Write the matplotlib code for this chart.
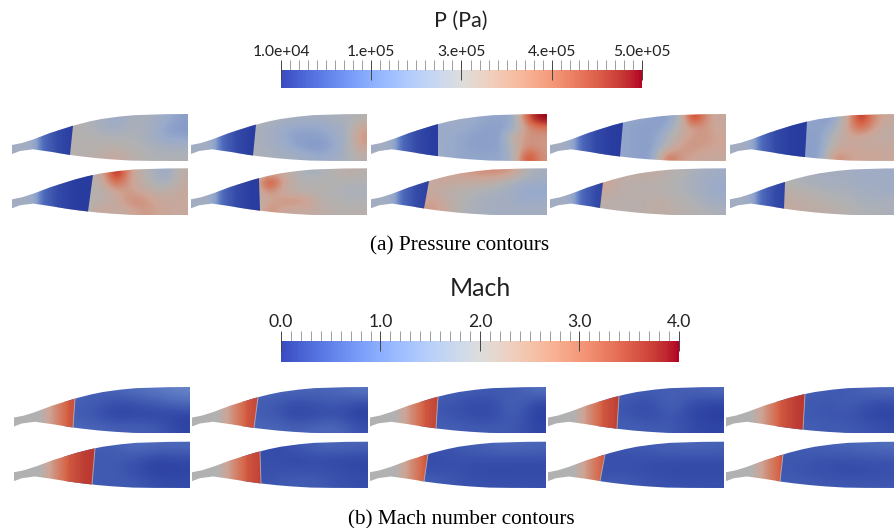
import numpy as np
import matplotlib
matplotlib.use("Agg")
import matplotlib.pyplot as plt
from matplotlib.colors import LinearSegmentedColormap, Normalize
from matplotlib.patches import PathPatch
from matplotlib.path import Path
from matplotlib.ticker import FixedLocator

# ---------- nozzle outline (px from panel's left / top-of-panel reference) ----------
top_x = [0, 10, 21, 38, 61, 75, 88, 105, 121, 150, 176]
top_y = [31, 29, 25.5, 19, 11.7, 8, 5.2, 2.8, 1.2, 0.2, 0]
bot_x = [0, 8, 21, 40, 58, 72, 88, 105, 121, 150, 176]
bot_y = [40, 37, 35.3, 38, 41, 42.8, 44.5, 45.8, 46.7, 47, 47]

# ---------- pressure panels, 1e5 Pa, rows top->bottom ----------
p_range = [0.1, 5.0]
p_nozzle_x = [0, 15, 24, 32, 45, 60, 85]
p_nozzle_v = [2.25, 2.25, 1.9, 1.0, 0.4, 0.15, 0.1]
p_shock_top = [61, 65, 67, 73, 77, 81, 68, 58, 53, 55]
p_shock_bot = [58, 62, 67, 70, 75, 76, 69, 53, 50, 54]

p1 = [[2.6,2.6,2.5,2.3,2.1,2.3,2.4,2.3,2.1,1.9],
      [2.6,2.6,2.5,2.3,2.2,2.4,2.4,2.2,1.9,1.8],
      [2.6,2.6,2.6,2.5,2.5,2.5,2.4,2.2,2.0,2.0],
      [2.6,2.6,2.6,2.7,2.7,2.6,2.5,2.4,2.3,2.3],
      [2.6,2.6,2.7,2.8,3.0,2.8,2.6,2.5,2.5,2.5]]
p2 = [[2.5,2.5,2.5,2.4,2.3,2.3,2.3,2.4,2.4,2.6],
      [2.5,2.4,2.3,2.1,2.0,2.0,2.0,2.2,2.3,3.2],
      [2.5,2.4,2.3,2.1,1.9,1.9,1.9,2.1,2.3,3.4],
      [2.5,2.4,2.3,2.2,2.0,1.8,1.8,2.0,2.3,3.2],
      [2.5,2.5,2.4,2.3,2.3,2.2,2.1,2.2,2.4,2.7]]
p3 = [[2.2,2.2,2.2,2.2,2.1,2.0,2.0,2.0,4.2,5.0],
      [2.2,2.1,2.1,2.1,2.0,1.9,1.9,2.1,3.4,3.7],
      [2.2,2.1,2.1,2.0,1.9,1.9,1.9,3.0,3.4,3.3],
      [2.2,2.2,2.1,2.0,1.9,1.9,1.9,2.6,3.5,3.3],
      [2.2,2.2,2.1,2.0,2.0,2.0,2.0,2.4,4.6,3.4]]
p4 = [[2.1,2.0,2.0,2.0,1.9,1.9,2.3,4.8,3.3,3.0],
      [2.1,2.0,2.0,1.9,1.9,2.0,2.8,3.2,3.3,3.0],
      [2.1,2.0,2.0,1.9,1.9,2.4,2.9,3.3,3.4,3.1],
      [2.1,2.0,2.0,1.9,1.9,2.5,3.3,3.4,3.2,3.1],
      [2.1,2.0,2.0,1.9,1.9,4.0,3.3,3.1,3.0,3.0]]
p5 = [[2.0,2.0,2.0,1.9,1.9,3.0,4.8,3.4,3.0,2.9],
      [2.0,2.0,2.0,1.9,2.2,3.2,4.0,3.2,2.8,2.8],
      [2.0,2.0,1.9,1.9,2.7,3.0,3.0,2.8,2.8,2.9],
      [2.0,2.0,1.9,1.9,2.8,3.1,3.0,3.0,3.0,3.0],
      [2.0,2.0,1.9,1.9,3.6,3.2,3.1,3.1,3.0,3.0]]
p6 = [[2.6,2.6,2.7,3.0,5.0,3.3,2.7,2.3,2.1,2.8],
      [2.6,2.6,2.6,2.8,4.2,3.2,2.8,2.4,2.3,2.9],
      [2.6,2.6,2.6,2.7,3.0,3.3,3.0,2.8,2.8,3.0],
      [2.6,2.6,2.6,2.7,2.9,3.5,3.5,3.1,3.0,3.0],
      [2.6,2.6,2.6,3.2,2.8,3.0,3.3,3.2,3.0,3.0]]
p7 = [[2.6,2.6,2.8,3.0,2.6,2.3,2.4,2.6,2.8,2.7],
      [2.6,2.6,4.8,3.3,2.7,2.6,2.6,2.6,2.5,2.5],
      [2.6,2.6,3.5,2.9,2.7,2.6,2.6,2.5,2.4,2.4],
      [2.6,2.6,3.0,3.4,3.5,3.3,2.7,2.6,2.5,2.5],
      [2.6,2.6,3.6,3.0,2.9,2.9,2.8,2.7,2.6,2.7]]
p8 = [[2.9,3.2,3.2,3.2,3.4,3.5,3.5,3.2,2.5,2.3],
      [2.9,3.0,3.0,2.9,2.9,2.8,2.6,2.3,2.2,2.2],
      [2.9,2.9,2.7,2.6,2.5,2.4,2.3,2.2,2.0,2.0],
      [3.2,3.2,2.8,2.6,2.4,2.3,2.3,2.2,2.1,2.2],
      [3.3,3.3,2.9,2.5,2.4,2.3,2.3,2.3,2.3,2.3]]
p9 = [[3.3,2.9,2.8,2.9,2.9,2.7,2.6,2.4,2.3,2.2],
      [3.3,2.9,2.7,2.7,2.7,2.6,2.5,2.3,2.2,2.1],
      [3.0,2.8,2.7,2.7,2.7,2.6,2.5,2.4,2.2,2.1],
      [2.8,2.7,2.7,2.7,2.8,2.8,2.6,2.5,2.3,2.2],
      [2.7,2.7,2.7,2.7,2.8,2.8,2.7,2.6,2.5,2.4]]
p10 = [[2.5,2.4,2.4,2.3,2.3,2.3,2.2,2.2,2.2,2.2],
       [2.6,2.5,2.4,2.3,2.3,2.3,2.2,2.2,2.2,2.2],
       [2.8,2.7,2.6,2.5,2.4,2.4,2.3,2.3,2.2,2.2],
       [2.9,2.8,2.8,2.7,2.6,2.5,2.4,2.3,2.4,2.4],
       [2.9,2.9,2.8,2.8,2.7,2.6,2.5,2.5,2.4,2.4]]
p_grids = [p1, p2, p3, p4, p5, p6, p7, p8, p9, p10]

# ---------- Mach panels ----------
m_range = [0.0, 4.0]
m_nozzle_x = [0, 25, 32, 42, 55, 70, 85]
m_nozzle_v = [2.0, 2.0, 2.35, 2.8, 3.3, 3.5, 3.6]
m_shock_top = [61, 66, 68, 71, 79, 81, 68, 58, 57, 57]
m_shock_bot = [59, 62, 66, 69, 77, 78, 69, 54, 52, 54]

m1 = [[.70,.60,.70,.85,1.0,1.15],[.60,.50,.25,.35,.50,.75],[.60,.40,.10,.20,.20,.10],[.70,.70,.60,.60,.50,.15]]
m2 = [[.70,.70,.70,.70,.70,.95],[.60,.50,.25,.35,.50,.25],[.60,.50,.15,.25,.35,.05],[.70,.70,.60,.70,.80,.35]]
m3 = [[.60,.60,.50,.50,.50,.85],[.50,.40,.25,.25,.75,.15],[.50,.40,.25,.25,.60,.05],[.60,.60,.50,.50,.50,.15]]
m4 = [[.60,.60,.50,.60,.60,.75],[.50,.40,.25,.75,.25,.15],[.50,.40,.25,.50,.15,.05],[.60,.60,.50,.50,.25,.15]]
m5 = [[.60,.60,.50,.50,.75,.75],[.50,.50,.40,.60,.25,.25],[.50,.50,.40,.40,.15,.15],[.60,.60,.50,.50,.40,.25]]
m6 = [[.50,.50,.60,.85,.75,.75],[.50,.50,.50,.40,.15,.25],[.50,.50,.50,.25,.05,.15],[.50,.50,.50,.50,.25,.25]]
m7 = [[.25,.20,.45,.65,.75,.65],[.30,.35,.20,.30,.20,.20],[.35,.35,.35,.35,.30,.20],[.35,.45,.55,.55,.40,.30]]
m8 = [[.35,.45,.55,.70,.80,.70],[.25,.35,.35,.35,.35,.35],[.35,.35,.25,.20,.20,.20],[.60,.45,.35,.35,.35,.35]]
m9 = [[.45,.45,.55,.65,.70,.65],[.35,.35,.35,.35,.35,.35],[.35,.35,.25,.20,.20,.20],[.50,.50,.40,.35,.35,.35]]
m10 = [[.55,.55,.65,.70,.80,.85],[.45,.45,.35,.40,.40,.45],[.45,.35,.30,.20,.30,.30],[.55,.50,.45,.45,.45,.45]]
m_grids = [m1, m2, m3, m4, m5, m6, m7, m8, m9, m10]

# ---------- colour bars ----------
p_ticks = [1.0e4, 1.325e5, 2.55e5, 3.775e5, 5.0e5]
p_labels = ["1.0e+04", "1.e+05", "3.e+05", "4.e+05", "5.0e+05"]
m_ticks = [0.0, 1.0, 2.0, 3.0, 4.0]
m_labels = ["0.0", "1.0", "2.0", "3.0", "4.0"]

# ---------- layout ----------
W, H = 895, 528
p_x0 = [12, 191, 371, 550, 730]
m_x0 = [14, 192, 370, 548, 726]
p_rows = [114, 168.3]
m_rows = [387, 441.7]
BAR_FONT = ["Lato", "DejaVu Sans"]
CAP_FONT = ["Liberation Serif"]

panel_cmap = LinearSegmentedColormap.from_list("panel", [
    (0.00, (40/255, 60/255, 160/255)),
    (0.25, (90/255, 120/255, 195/255)),
    (0.40, (152/255, 170/255, 203/255)),
    (0.50, (178/255, 178/255, 178/255)),
    (0.62, (205/255, 165/255, 150/255)),
    (0.80, (215/255, 100/255, 70/255)),
    (1.00, (150/255, 0/255, 20/255)),
])

fig = plt.figure(figsize=(W/100, H/100), dpi=100, facecolor="white")
ax = fig.add_axes([0, 0, 1, 1])
ax.set_axis_off()


def draw_panel(x0, y0, yscale, grid, nx, nv, s_top, s_bot, vr, gx0, shock_line):
    norm = Normalize(*vr)
    xs = np.linspace(0, 176, 177)
    top = np.interp(xs, top_x, top_y) * yscale
    bot = np.interp(xs, bot_x, bot_y) * yscale
    outline = np.column_stack([np.r_[xs, xs[::-1]], np.r_[top, bot[::-1]]])
    outline = outline + [x0, y0]
    patch = PathPatch(Path(outline), transform=ax.transData, fc="none", ec="none")
    ax.add_patch(patch)
    im = ax.imshow(grid, cmap=panel_cmap, norm=norm, aspect="auto", interpolation="bicubic",
                   extent=[x0 + gx0, x0 + 176, y0 + 47 * yscale, y0])
    im.set_clip_path(patch)
    # supersonic nozzle part, up to the shock
    mask = xs < min(s_top, s_bot)
    ty = np.interp(s_top, xs, top)
    by = np.interp(s_bot, xs, bot)
    ux = np.r_[xs[mask], s_top, s_bot, xs[mask][::-1]]
    uy = np.r_[top[mask], ty, by, bot[mask][::-1]]
    up = PathPatch(Path(np.column_stack([ux + x0, uy + y0])), transform=ax.transData, fc="none", ec="none")
    ax.add_patch(up)
    gx = np.arange(0, 90)
    gv = np.interp(gx, nx, nv)[None, :]
    im2 = ax.imshow(gv, cmap=panel_cmap, norm=norm, aspect="auto", interpolation="bilinear",
                    extent=[x0, x0 + 90, y0 + 47 * yscale, y0])
    im2.set_clip_path(up)
    if shock_line:
        ax.plot([x0 + s_top, x0 + s_bot], [y0 + ty, y0 + by], color="#c9c6c6", lw=0.7, alpha=0.7)


for i in range(10):
    r, c = divmod(i, 5)
    draw_panel(p_x0[c], p_rows[r], 1.0, p_grids[i], p_nozzle_x, p_nozzle_v,
               p_shock_top[i], p_shock_bot[i], p_range, 45, False)
    draw_panel(m_x0[c], m_rows[r], 46.3/47, m_grids[i], m_nozzle_x, m_nozzle_v,
               m_shock_top[i], m_shock_bot[i], m_range, 50, True)
ax.set_xlim(0, W)
ax.set_ylim(H, 0)


def colorbar(x0, x1, y0, y1, vmin, vmax, ticks, labels, fs, pad):
    bar = fig.add_axes([x0/W, 1 - y1/H, (x1 - x0)/W, (y1 - y0)/H])
    vals = np.linspace(vmin, vmax, 256)[None, :]
    bar.imshow(vals, cmap="coolwarm", aspect="auto", extent=[vmin, vmax, 0, 1],
               vmin=vmin, vmax=vmax, interpolation="nearest")
    for s in bar.spines.values():
        s.set_visible(False)
    bar.set_yticks([])
    bar.xaxis.tick_top()
    bar.set_xticks(ticks)
    bar.set_xticklabels(labels, fontsize=fs, family=BAR_FONT, color="#222222")
    step = (ticks[1] - ticks[0]) / 10
    minors = [ticks[0] + k * step for k in range(41) if k % 10]
    bar.xaxis.set_minor_locator(FixedLocator(minors))
    bar.tick_params(axis="x", which="major", direction="inout", length=14, width=0.7,
                    color="#444444", pad=pad)
    bar.tick_params(axis="x", which="minor", direction="out", length=7, width=0.5, color="#777777")


colorbar(281, 642, 70, 88.5, p_ticks[0], p_ticks[-1], p_ticks, p_labels, 11.3, 1)
colorbar(281, 679, 341, 362, m_ticks[0], m_ticks[-1], m_ticks, m_labels, 12.6, 1)

fig.text(461/W, 1 - 21/H, "P (Pa)", ha="center", va="center", fontsize=15.5, family=BAR_FONT, color="#222222")
fig.text(480/W, 1 - 289/H, "Mach", ha="center", va="center", fontsize=18, family=BAR_FONT, color="#222222")
fig.text(460/W, 1 - 246/H, "(a) Pressure contours", ha="center", va="center", fontsize=15.3, family=CAP_FONT, color="black")
fig.text(461/W, 1 - 520/H, "(b) Mach number contours", ha="center", va="center", fontsize=15.3, family=CAP_FONT, color="black")

fig.savefig("out.png", dpi=100)
